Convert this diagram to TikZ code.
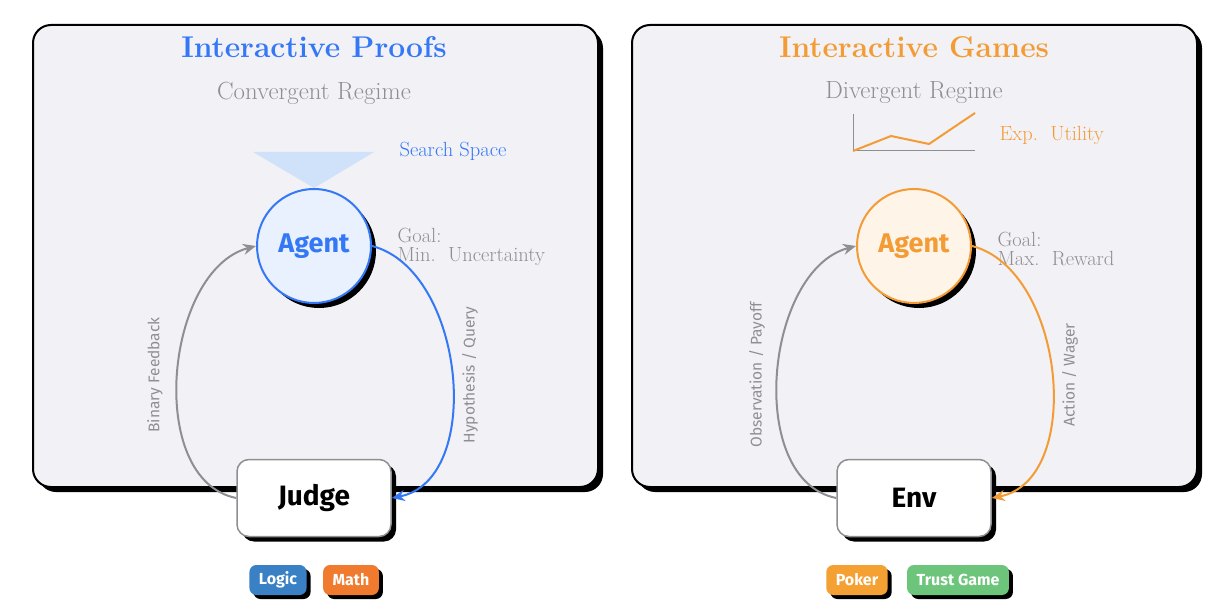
\documentclass[tikz,border=0pt]{standalone}
\usepackage{fontspec}
\newfontfamily\fira{Fira Sans}
\usetikzlibrary{arrows.meta,shadows}
\definecolor{bgp}{HTML}{F1F1F6}
\definecolor{pblue}{HTML}{3478F6}
\definecolor{porange}{HTML}{F39C35}
\definecolor{lblue}{HTML}{CFE2FA}
\definecolor{ablue}{HTML}{E8F1FD}
\definecolor{aorange}{HTML}{FEF4E8}
\definecolor{gr}{HTML}{8E8E93}
\definecolor{blogic}{HTML}{3A80C4}
\definecolor{bmath}{HTML}{F07A2E}
\definecolor{bpoker}{HTML}{F5A033}
\definecolor{btrust}{HTML}{6CC57A}
\tikzset{
 panel/.style={fill=bgp,draw=black,line width=2pt,rounded corners=18pt,drop shadow={shadow xshift=5pt,shadow yshift=-5pt,opacity=1,fill=black}},
 title/.style={font=\bfseries\fontsize{30}{34}\selectfont},
 regime/.style={text=gr,font=\fontsize{24.8}{28}\selectfont},
 small/.style={font=\fontsize{20.5}{19}\selectfont,align=left,anchor=west},
 agent/.style={circle,minimum size=114pt,line width=2pt,font=\fira\bfseries\fontsize{27}{30}\selectfont,drop shadow={shadow xshift=5pt,shadow yshift=-5pt,opacity=1,fill=black}},
 box/.style={draw=gr,fill=white,line width=1.5pt,rounded corners=12pt,minimum width=154pt,minimum height=77pt,font=\fira\bfseries\fontsize{28}{30}\selectfont,drop shadow={shadow xshift=5pt,shadow yshift=-5pt,opacity=1,fill=black}},
 badge/.style={rounded corners=7pt,text=white,minimum height=30pt,inner xsep=9.5pt,font=\fira\bfseries\fontsize{16}{18}\selectfont,drop shadow={shadow xshift=4pt,shadow yshift=-4pt,opacity=1,fill=black}},
 conn/.style={line width=2pt,-{Stealth[length=13pt,width=11pt]}},
 elab/.style={text=gr,font=\fira\fontsize{15.5}{17}\selectfont,rotate=90},
}
\begin{document}
\begin{tikzpicture}[x=1pt,y=-1pt]
\useasboundingbox (0,0) rectangle (1226,612);
% Left panel
\node[panel,minimum width=565pt,minimum height=462pt,inner sep=0] (pl) at (315.5,256) {};
\node[title,text=pblue] (tl) at (314,47) {Interactive Proofs};
\node[regime] (rl) at (314,93) {Convergent Regime};
\fill[lblue] (253,152) -- (374,152) -- (314,188) -- cycle;
\node[small,text=pblue] (ss) at (396,151) {Search Space};
\node[agent,draw=pblue,fill=ablue,text=pblue] (a1) at (314,246) {Agent};
\node[small,text=gr] (g1) at (394,247) {Goal:\\Min.~~Uncertainty};
\node[box] (j) at (314,498) {Judge};
\draw[conn,pblue] (a1.east) .. controls (465,270) and (485,480) .. (j.east);
\draw[conn,gr] (j.west) .. controls (145,480) and (165,270) .. (a1.west);
\node[elab] (h1) at (470,375) {Hypothesis / Query};
\node[elab] (b1) at (155,375) {Binary Feedback};
\node[badge,fill=blogic] (lg) at (278,580) {Logic};
\node[badge,fill=bmath] (mt) at (351,580) {Math};
% Right panel
\node[panel,minimum width=565pt,minimum height=462pt,inner sep=0] (pr) at (914.5,256) {};
\node[title,text=porange] (tr) at (914,47) {Interactive Games};
\node[regime] (rr) at (914,93) {Divergent Regime};
\draw[gr,line width=1pt] (853,114) -- (853,151) -- (975,151);
\draw[porange,line width=2pt] (853,151) -- (891,136) -- (929,144) -- (975,113);
\node[small,text=porange] (eu) at (996,135) {Exp.~~Utility};
\node[agent,draw=porange,fill=aorange,text=porange] (a2) at (914,246) {Agent};
\node[small,text=gr] (g2) at (994,249) {Goal:\\Max.~~Reward};
\node[box] (e) at (914,498) {Env};
\draw[conn,porange] (a2.east) .. controls (1065,270) and (1085,480) .. (e.east);
\draw[conn,gr] (e.west) .. controls (745,480) and (765,270) .. (a2.west);
\node[elab] (h2) at (1070,375) {Action / Wager};
\node[elab] (b2) at (757,375) {Observation / Payoff};
\node[badge,fill=bpoker] (pk) at (857,580) {Poker};
\node[badge,fill=btrust] (tg) at (958,580) {Trust Game};
\end{tikzpicture}
\end{document}
